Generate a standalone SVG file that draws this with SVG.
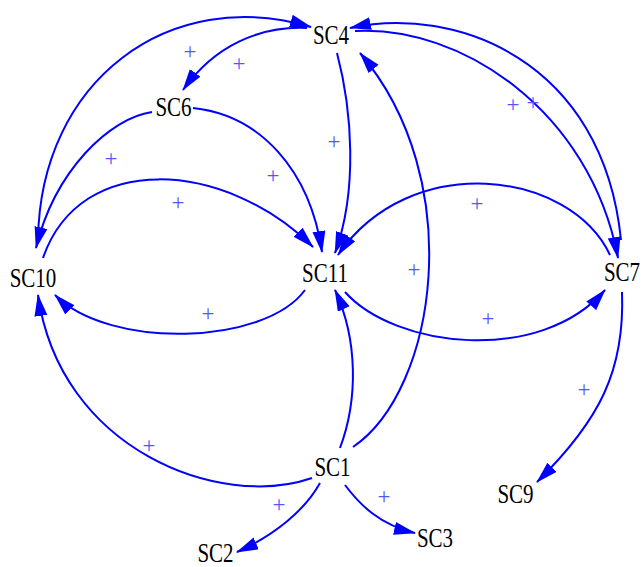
<svg xmlns="http://www.w3.org/2000/svg" width="642" height="567" viewBox="0 0 642 567">
<style>
.n{font-family:"Liberation Serif","Times New Roman",serif;font-size:21px;fill:#000;text-anchor:middle}
.e{fill:none;stroke:#0000ff;stroke-width:2;marker-end:url(#ah)}
.p{font-family:"Liberation Serif","Times New Roman",serif;font-size:23px;fill:#5555ff;text-anchor:middle}
</style>
<defs>
<marker id="ah" markerUnits="userSpaceOnUse" markerWidth="24" markerHeight="14" refX="21" refY="6.5" orient="auto">
<path d="M0,0 L22,6.5 L0,13 z" fill="#0000ff"/>
</marker>
</defs>
<rect width="642" height="567" fill="#fff"/>
<g id="connectors">
<path class="e" d="M38,240 C40,80 170,-15 311,27"/>
<path class="e" d="M307,28 C260,26 215,45 183,90"/>
<path class="e" d="M152,112 C110,118 55,170 36,248"/>
<path class="e" d="M193,108 C260,115 310,170 322,252"/>
<path class="e" d="M43,258 C80,150 225,160 313,247"/>
<path class="e" d="M337,53 C352,110 358,190 335,253"/>
<path class="e" d="M353,447 C437,390 468,180 360,53"/>
<path class="e" d="M621,240 C603,60 455,5 350,28"/>
<path class="e" d="M355,31 C460,25 590,110 618,258"/>
<path class="e" d="M610,255 C570,170 410,150 338,255"/>
<path class="e" d="M305,290 C265,345 110,350 55,295"/>
<path class="e" d="M345,292 C395,348 540,365 605,290"/>
<path class="e" d="M340,448 C358,400 358,340 335,290"/>
<path class="e" d="M312,478 C220,510 60,450 38,295"/>
<path class="e" d="M320,483 C305,510 275,535 237,552"/>
<path class="e" d="M345,485 C360,505 380,525 415,533"/>
<path class="e" d="M622,292 C625,370 600,420 537,482"/>
</g>
<g id="labels">
<text class="p" x="190" y="59">+</text>
<text class="p" x="239" y="71">+</text>
<text class="p" x="111" y="166">+</text>
<text class="p" x="273" y="183">+</text>
<text class="p" x="178" y="210">+</text>
<text class="p" x="334" y="149">+</text>
<text class="p" x="414" y="277">+</text>
<text class="p" x="208" y="321">+</text>
<text class="p" x="149" y="453">+</text>
<text class="p" x="279" y="512">+</text>
<text class="p" x="384" y="504">+</text>
<text class="p" x="584" y="397">+</text>
<text class="p" x="488" y="326">+</text>
<text class="p" x="477" y="211">+</text>
<text class="p" x="513" y="112">+</text>
<text class="p" x="533" y="110">+</text>
</g>
<g id="SC4"><text class="n" transform="translate(331,44) scale(1,1.3)">SC4</text></g>
<g id="SC6"><text class="n" transform="translate(173.5,116) scale(1,1.3)">SC6</text></g>
<g id="SC10"><text class="n" transform="translate(33,287) scale(1,1.3)">SC10</text></g>
<g id="SC11"><text class="n" transform="translate(325,282) scale(1,1.3)">SC11</text></g>
<g id="SC7"><text class="n" transform="translate(622,281) scale(1,1.3)">SC7</text></g>
<g id="SC1"><text class="n" transform="translate(332.5,476) scale(1,1.3)">SC1</text></g>
<g id="SC9"><text class="n" transform="translate(515.5,503) scale(1,1.3)">SC9</text></g>
<g id="SC2"><text class="n" transform="translate(215.5,562) scale(1,1.3)">SC2</text></g>
<g id="SC3"><text class="n" transform="translate(435,547) scale(1,1.3)">SC3</text></g>
</svg>
